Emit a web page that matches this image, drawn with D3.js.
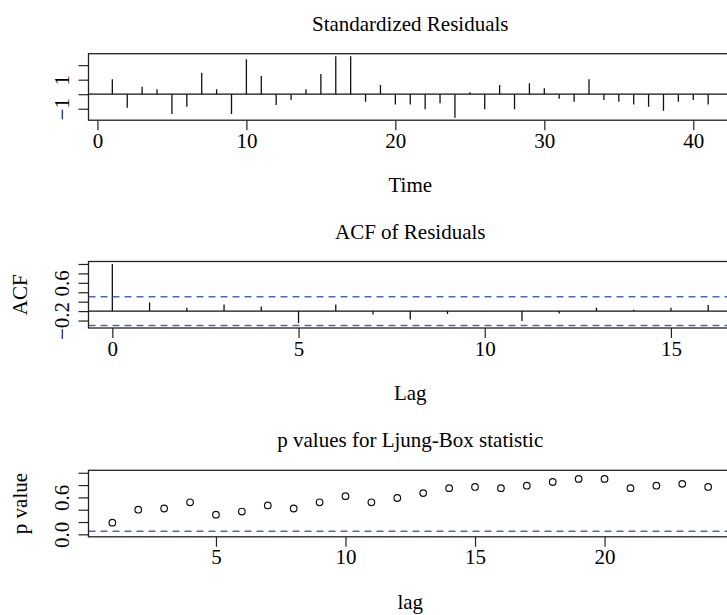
<!DOCTYPE html>
<html>
<head>
<meta charset="utf-8">
<script src="https://cdn.jsdelivr.net/npm/d3@7"></script>
<style>
  body { margin: 0; background: #fff; }
  svg { display: block; font-family: 'Liberation Serif', 'Times New Roman', serif; }
</style>
</head>
<body>
<svg id="chart" width="727" height="615"></svg>
<script>
// standardized residuals, t = 1..41
const residuals = [
  1.03, -0.93, 0.52, 0.34, -1.37, -0.86, 1.48, 0.34, -1.37, 2.41,
  1.26, -0.74, -0.40, 0.34, 1.39, 2.62, 2.62, -0.52, 0.63, -0.70,
  -0.70, -1.04, -0.63, -1.62, 0.13, -1.04, 0.63, -1.04, 0.75, 0.41,
  -0.31, -0.52, 1.03, -0.40, -0.52, -0.70, -0.86, -1.14, -0.52, -0.40,
  -0.70
]
// ACF of residuals, lag = 0..16
const acfValues = [
  1.00, 0.18, 0.07, 0.14, 0.10, -0.25, 0.14, -0.07, -0.18,
  -0.06, -0.01, -0.21, -0.05, 0.07, 0.03, 0.07, 0.13
]
const ciLimit = 0.306
// Ljung-Box p values, lag = 1..24
const pValues = [
  0.19, 0.40, 0.42, 0.52, 0.32, 0.37, 0.47, 0.42, 0.52, 0.62, 0.52, 0.59,
  0.67, 0.75, 0.77, 0.75, 0.79, 0.85, 0.90, 0.90, 0.75, 0.79, 0.82, 0.77
]
const pLevel = 0.05

const residTicksX = [0, 10, 20, 30, 40]
const residTicksY = [-1, 0, 1, 2]
const residLabelsY = ['\u22121', '', '1', '']
const acfTicksX = [0, 5, 10, 15]
const acfTicksY = [-0.2, 0, 0.2, 0.4, 0.6, 0.8, 1.0]
const acfLabelsY = ['\u22120.2', '', '', '', '0.6', '', '']
const pTicksX = [5, 10, 15, 20]
const pTicksY = [0, 0.2, 0.4, 0.6, 0.8, 1.0]
const pLabelsY = ['0.0', '', '', '0.6', '', '']

const plotLeft = 88.5
const plotRight = 732
const panelHeight = 66.5
const panelTops = [53.7, 261.5, 470.3]
const fontSize = 21
const ciColor = '#4468c4'

const svg = d3.select('#chart')
svg.append('rect').attr('width', 727).attr('height', 615).attr('fill', '#fff')

// R-style axis range: extent with 4% padding on each side
function padded (ext) {
  const d = (ext[1] - ext[0]) * 0.04
  return [ext[0] - d, ext[1] + d]
}

function styleAxis (ga) {
  ga.attr('font-family', null).attr('font-size', fontSize)
  ga.select('.domain').remove()
  ga.selectAll('line').attr('stroke', '#222').attr('stroke-width', 1.2)
  ga.selectAll('text').attr('fill', '#000').attr('dy', null)
}

function panel (opts) {
  const top = opts.top
  const bottom = top + panelHeight
  const g = svg.append('g')

  const x = d3.scaleLinear().domain(padded(opts.xExtent)).range([plotLeft, plotRight])
  const y = d3.scaleLinear().domain(padded(opts.yExtent)).range([bottom, top])

  const xAxis =
    d3.axisBottom(x)
      .tickValues(opts.ticksX)
      .tickSize(10)
      .tickFormat(d => d)
  const yAxis =
    d3.axisLeft(y)
      .tickValues(opts.ticksY)
      .tickSize(10)
      .tickFormat((d, i) => opts.labelsY[i])

  const gx = g.append('g')
    .attr('transform', `translate(0, ${bottom})`)
    .call(xAxis)
  styleAxis(gx)
  gx.selectAll('text').attr('y', 27.5)

  const gy = g.append('g')
    .attr('transform', `translate(${plotLeft}, 0)`)
    .call(yAxis)
  styleAxis(gy)
  gy.selectAll('text')
    .attr('x', null)
    .attr('text-anchor', 'middle')
    .attr('transform', 'translate(-19.5, 0) rotate(-90)')

  const mid = (plotLeft + plotRight) / 2
  g.append('text')
    .attr('x', mid)
    .attr('y', top - 23)
    .attr('text-anchor', 'middle')
    .attr('font-size', fontSize)
    .text(opts.title)

  g.append('text')
    .attr('x', mid)
    .attr('y', bottom + 71.7)
    .attr('text-anchor', 'middle')
    .attr('font-size', fontSize)
    .text(opts.xLabel)

  if (opts.yLabel) {
    g.append('text')
      .attr('transform', `translate(27, ${(top + bottom) / 2}) rotate(-90)`)
      .attr('text-anchor', 'middle')
      .attr('font-size', fontSize)
      .text(opts.yLabel)
  }

  const clipId = 'clip' + opts.id
  svg.append('clipPath').attr('id', clipId)
    .append('rect')
    .attr('x', plotLeft).attr('y', top)
    .attr('width', plotRight - plotLeft).attr('height', panelHeight)

  const body = g.append('g').attr('clip-path', `url(#${clipId})`)
  opts.draw(body, x, y)

  g.append('rect')
    .attr('x', plotLeft)
    .attr('y', top)
    .attr('width', plotRight - plotLeft)
    .attr('height', panelHeight)
    .attr('fill', 'none')
    .attr('stroke', '#222')
    .attr('stroke-width', 1.3)
}

function hLine (body, x, y, v, dashed) {
  const [x0, x1] = x.domain()
  const line = body.append('line')
    .attr('x1', x(x0)).attr('x2', x(x1))
    .attr('y1', y(v)).attr('y2', y(v))
  if (dashed) {
    line.attr('stroke', ciColor).attr('stroke-width', 1.5).attr('stroke-dasharray', '7,5')
  } else {
    line.attr('stroke', '#111').attr('stroke-width', 1.2)
  }
}

function spikes (body, x, y, data, start) {
  body.selectAll('.spike')
    .data(data)
    .enter()
    .append('line')
    .attr('class', 'spike')
    .attr('x1', (d, i) => x(i + start))
    .attr('x2', (d, i) => x(i + start))
    .attr('y1', y(0))
    .attr('y2', d => y(d))
    .attr('stroke', '#111')
    .attr('stroke-width', 1.3)
}

panel({
  id: 1,
  top: panelTops[0],
  xExtent: [1, residuals.length],
  yExtent: d3.extent(residuals),
  ticksX: residTicksX,
  ticksY: residTicksY,
  labelsY: residLabelsY,
  title: 'Standardized Residuals',
  xLabel: 'Time',
  yLabel: '',
  draw: (body, x, y) => {
    spikes(body, x, y, residuals, 1)
    hLine(body, x, y, 0, false)
  }
})

panel({
  id: 2,
  top: panelTops[1],
  xExtent: [0, acfValues.length - 1],
  yExtent: d3.extent(acfValues.concat([ciLimit, -ciLimit])),
  ticksX: acfTicksX,
  ticksY: acfTicksY,
  labelsY: acfLabelsY,
  title: 'ACF of Residuals',
  xLabel: 'Lag',
  yLabel: 'ACF',
  draw: (body, x, y) => {
    spikes(body, x, y, acfValues, 0)
    hLine(body, x, y, 0, false)
    hLine(body, x, y, ciLimit, true)
    hLine(body, x, y, -ciLimit, true)
  }
})

panel({
  id: 3,
  top: panelTops[2],
  xExtent: [1, pValues.length],
  yExtent: [0, 1],
  ticksX: pTicksX,
  ticksY: pTicksY,
  labelsY: pLabelsY,
  title: 'p values for Ljung-Box statistic',
  xLabel: 'lag',
  yLabel: 'p value',
  draw: (body, x, y) => {
    hLine(body, x, y, pLevel, true)
    body.selectAll('.pt')
      .data(pValues)
      .enter()
      .append('circle')
      .attr('class', 'pt')
      .attr('cx', (d, i) => x(i + 1))
      .attr('cy', d => y(d))
      .attr('r', 3.3)
      .attr('fill', 'none')
      .attr('stroke', '#111')
      .attr('stroke-width', 1.2)
  }
})
</script>
</body>
</html>
